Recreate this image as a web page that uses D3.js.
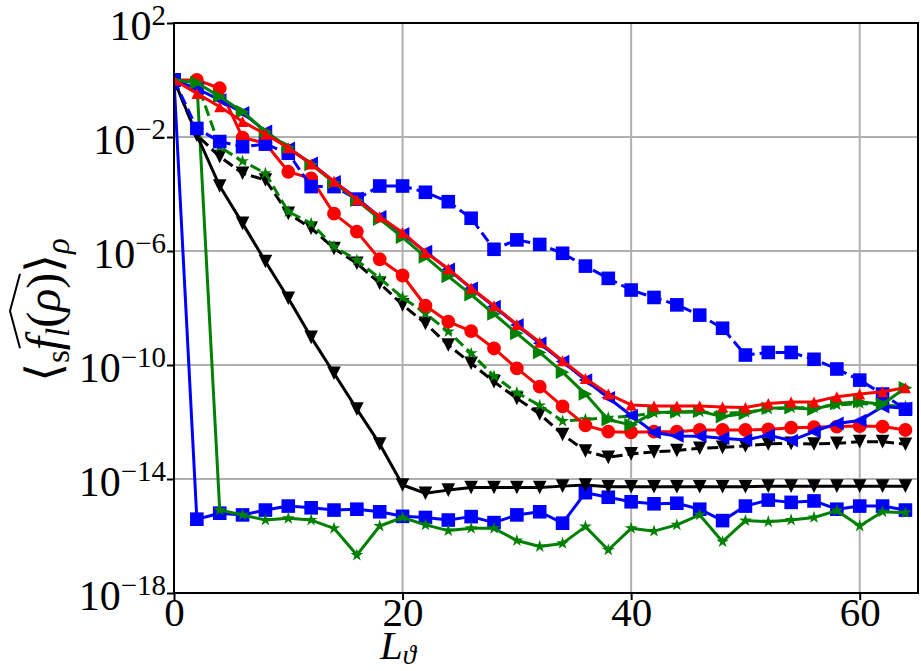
<!DOCTYPE html>
<html>
<head>
<meta charset="utf-8">
<script src="https://cdn.jsdelivr.net/npm/d3@7"></script>
<style>
  body { margin: 0; background: #fff; }
  text { font-family: "Liberation Serif", "DejaVu Serif", serif; }
</style>
</head>
<body>
<div id="chart"></div>
<script>
// Values, stored as log10 of <f>

const L = [0, 2, 4, 6, 8, 10, 12, 14, 16, 18, 20, 22, 24, 26, 28, 30, 32,
           34, 36, 38, 40, 42, 44, 46, 48, 50, 52, 54, 56, 58, 60, 62, 64];

const blueSquareSolid = [0, -15.41, -15.20, -15.26, -15.09, -14.95, -15.01, -15.09, -15.06, -15.15, -15.31,
  -15.35, -15.44, -15.32, -15.53, -15.26, -15.15, -15.55, -14.48, -14.64, -14.80, -14.87, -14.85,
  -15.06, -15.46, -14.95, -14.74, -14.82, -14.77, -15.06, -14.95, -14.95, -15.09];

const greenStarSolid = [0, -0.06, -15.09, -15.26, -15.44, -15.38, -15.44, -15.73, -16.67, -15.65, -15.35,
  -15.61, -15.81, -15.73, -15.73, -16.16, -16.37, -16.26, -15.67, -16.49, -15.73, -15.83, -15.61,
  -15.26, -16.20, -15.46, -15.50, -15.44, -15.35, -15.11, -15.65, -15.15, -15.18];

const blackTriSolid = [0, -1.93, -3.72, -5.03, -6.37, -7.66, -9.03, -10.29, -11.55, -12.77, -14.21,
  -14.50, -14.39, -14.30, -14.30, -14.30, -14.30, -14.25, -14.21, -14.27, -14.27, -14.27, -14.27,
  -14.27, -14.27, -14.27, -14.25, -14.25, -14.25, -14.25, -14.25, -14.25, -14.25];

const blackTriDashed = [0, -1.93, -2.69, -3.27, -3.51, -4.68, -5.20, -5.91, -6.43, -7.13, -7.89,
  -8.54, -9.30, -9.94, -10.59, -11.17, -11.72, -12.44, -13.02, -13.24, -13.12, -13.05, -13.00,
  -12.92, -12.89, -12.84, -12.77, -12.75, -12.77, -12.75, -12.69, -12.69, -12.78];

const greenStarDashed = [0, -0.06, -2.35, -2.85, -3.27, -4.62, -5.03, -5.85, -6.32, -6.96, -7.63,
  -8.19, -8.83, -9.59, -10.39, -10.97, -11.42, -11.97, -11.91, -11.85, -11.79, -11.68, -11.66,
  -11.64, -11.70, -11.66, -11.55, -11.50, -11.50, -11.40, -11.35, -11.40, -11.46];

const redCircle = [0, 0.0, -0.29, -2.02, -2.22, -3.22, -3.45, -4.69, -5.32, -6.29, -6.86,
  -7.92, -8.48, -8.81, -9.42, -10.12, -10.76, -11.45, -12.12, -12.34, -12.36, -12.34, -12.34,
  -12.28, -12.28, -12.28, -12.26, -12.20, -12.18, -12.16, -12.14, -12.16, -12.28];

const blueSquareDashed = [0, -1.70, -2.16, -2.34, -2.25, -2.57, -3.74, -3.74, -4.18, -3.72, -3.72,
  -3.94, -4.27, -4.85, -5.94, -5.61, -5.77, -6.08, -6.53, -6.96, -7.37, -7.63, -7.89,
  -8.25, -8.71, -9.65, -9.56, -9.56, -9.80, -10.14, -10.53, -11.02, -11.55];

const blueTriLeft = [0, -0.30, -0.70, -1.15, -1.80, -2.40, -2.92, -3.57, -4.15, -4.80, -5.40,
  -6.02, -6.64, -7.31, -7.95, -8.60, -9.24, -9.88, -10.53, -11.15, -11.77, -12.37, -12.49,
  -12.50, -12.57, -12.63, -12.46, -12.65, -12.34, -12.05, -11.95, -11.46, -11.52];

const greenTriRight = [0, -0.10, -0.58, -1.11, -1.81, -2.36, -2.96, -3.60, -4.22, -4.88, -5.52,
  -6.21, -6.89, -7.53, -8.21, -8.89, -9.56, -10.25, -11.02, -11.92, -12.10, -11.67, -11.65,
  -11.62, -11.81, -11.70, -11.52, -11.50, -11.55, -11.35, -11.29, -11.38, -10.80];

const redTriUp = [0, -0.47, -0.94, -1.46, -1.90, -2.38, -2.95, -3.55, -4.20, -4.80, -5.35,
  -6.05, -6.62, -7.30, -7.92, -8.58, -9.20, -9.85, -10.47, -11.02, -11.40, -11.44, -11.44,
  -11.44, -11.47, -11.49, -11.35, -11.30, -11.30, -11.11, -11.02, -10.94, -10.80];

const xTicks = [0, 20, 40, 60];
const yTickExps = [2, -2, -6, -10, -14, -18];

// draw order follows the picture (last one on top)
const series = [
  { vals: blueSquareSolid,  color: "#0000ff", dash: null,   marker: "square" },
  { vals: greenStarSolid,   color: "#008000", dash: null,   marker: "star" },
  { vals: blackTriSolid,    color: "#000000", dash: null,   marker: "down" },
  { vals: blackTriDashed,   color: "#000000", dash: "11,5", marker: "down" },
  { vals: greenStarDashed,  color: "#008000", dash: "11,5", marker: "star" },
  { vals: redCircle,        color: "#ff0000", dash: null,   marker: "circle" },
  { vals: blueSquareDashed, color: "#0000ff", dash: "11,5", marker: "square" },
  { vals: blueTriLeft,      color: "#0000ff", dash: null,   marker: "left" },
  { vals: greenTriRight,    color: "#008000", dash: null,   marker: "right" },
  { vals: redTriUp,         color: "#ff0000", dash: null,   marker: "up" }
];

// ---------- layout ----------
const width = 921, height = 671;
const plotLeft = 174, plotRight = 918, plotTop = 23, plotBottom = 593;

const svg = d3.select("#chart").append("svg")
    .attr("width", width)
    .attr("height", height);

const x = d3.scaleLinear().domain([0, 65.1]).range([plotLeft, plotRight]);
const y = d3.scaleLog().domain([1e-18, 1e2]).range([plotBottom, plotTop]);

// grid
svg.append("g").selectAll("line")
    .data(xTicks).enter().append("line")
    .attr("x1", d => x(d)).attr("x2", d => x(d))
    .attr("y1", plotTop).attr("y2", plotBottom)
    .attr("stroke", "#b0b0b0").attr("stroke-width", 2);

svg.append("g").selectAll("line")
    .data(yTickExps).enter().append("line")
    .attr("x1", plotLeft).attr("x2", plotRight)
    .attr("y1", d => y(Math.pow(10, d))).attr("y2", d => y(Math.pow(10, d)))
    .attr("stroke", "#b0b0b0").attr("stroke-width", 2);

// clip for data
svg.append("clipPath").attr("id", "plotclip")
  .append("rect")
    .attr("x", plotLeft).attr("y", plotTop)
    .attr("width", plotRight - plotLeft).attr("height", plotBottom - plotTop);

const plot = svg.append("g").attr("clip-path", "url(#plotclip)");

const line = d3.line()
    .x(d => x(d[0]))
    .y(d => y(Math.pow(10, d[1])));

// matplotlib-like triangles (width = height = 2r)
function tri(r) {
  return `M0,${-r}L${r},${r}L${-r},${r}Z`;
}
function markerPath(kind) {
  switch (kind) {
    case "square": return d3.symbol(d3.symbolSquare, 185)();
    case "circle": return d3.symbol(d3.symbolCircle, 150)();
    case "star":   return d3.symbol(d3.symbolStar, 50)();
    case "up":     return tri(5.5);
    default:       return tri(6.8);
  }
}
const markerRotate = { down: 180, left: -90, right: 90 };

series.forEach(s => {
  const pts = L.map((l, i) => [l, s.vals[i]]);
  const g = plot.append("g");

  g.append("path")
    .attr("d", line(pts))
    .attr("fill", "none")
    .attr("stroke", s.color)
    .attr("stroke-width", 3)
    .attr("stroke-dasharray", s.dash)
    .attr("stroke-linejoin", "round");

  const sym = markerPath(s.marker);
  const rot = markerRotate[s.marker] || 0;
  g.selectAll("path.m")
    .data(pts).enter().append("path")
    .attr("class", "m")
    .attr("d", sym)
    .attr("transform", d => `translate(${x(d[0])},${y(Math.pow(10, d[1]))}) rotate(${rot})`)
    .attr("fill", s.color);
});

// ---------- axes ----------
const gx = svg.append("g")
    .attr("transform", `translate(0,${plotBottom})`)
    .call(d3.axisBottom(x).tickValues(xTicks).tickSize(7));
gx.select(".domain").remove();
gx.selectAll(".tick line").attr("stroke", "#000").attr("stroke-width", 2);
gx.selectAll(".tick text")
    .attr("font-size", 41)
    .attr("font-family", "Liberation Serif")
    .attr("fill", "#000")
    .attr("dy", null)
    .attr("y", 33);

const gy = svg.append("g")
    .attr("transform", `translate(${plotLeft},0)`)
    .call(d3.axisLeft(y).tickValues(yTickExps.map(e => Math.pow(10, e))).tickSize(7));
gy.select(".domain").remove();
gy.selectAll(".tick line").attr("stroke", "#000").attr("stroke-width", 2);
gy.selectAll(".tick text").remove();
gy.selectAll(".tick").each(function(d) {
  const e = Math.round(Math.log10(d));
  const t = d3.select(this).append("text")
      .attr("x", -8).attr("y", 16)
      .attr("text-anchor", "end")
      .attr("font-size", 42)
      .attr("fill", "#000");
  t.append("tspan").text("10");
  t.append("tspan")
      .attr("font-size", 29)
      .attr("dy", -15)
      .text(e < 0 ? "\u2212" + (-e) : String(e));
});

// spines
svg.append("rect")
    .attr("x", plotLeft).attr("y", plotTop)
    .attr("width", plotRight - plotLeft).attr("height", plotBottom - plotTop)
    .attr("fill", "none").attr("stroke", "#000").attr("stroke-width", 2);

// x label  L_theta
const xl = svg.append("text")
    .attr("x", 398).attr("y", 659)
    .attr("text-anchor", "middle")
    .attr("font-size", 41);
xl.append("tspan").attr("font-style", "italic").text("L");
xl.append("tspan").attr("font-style", "italic").attr("font-size", 27).attr("dy", 5).text("\u03d1");

// y label  < s f_l(rho)^ >_rho
const yg = svg.append("g").attr("transform", "translate(60,310) rotate(-90)");
const yl = yg.append("text")
    .attr("text-anchor", "middle")
    .attr("font-size", 48);
yl.append("tspan").text("\u27e8");
yl.append("tspan").attr("font-size", 33).attr("dy", 9).text("s");
yl.append("tspan").attr("font-style", "italic").attr("dy", -9).text("f");
yl.append("tspan").attr("font-style", "italic").attr("font-size", 33).attr("dy", 9).text("l");
yl.append("tspan").attr("dy", -9).text("(");
yl.append("tspan").attr("font-style", "italic").text("\u03c1");
yl.append("tspan").text(")");
yl.append("tspan").text("\u27e9");
yl.append("tspan").attr("font-style", "italic").attr("font-size", 33).attr("dy", 9).text("\u03c1");

// wide hat over f_l(rho)
const node = yl.node();
const hx0 = node.getStartPositionOfChar(2).x + 2;
const hx1 = node.getEndPositionOfChar(6).x - 1;
const hatY = -40;
yg.append("path")
    .attr("d", `M${hx0},${hatY} L${(hx0 + hx1) / 2},${hatY - 10} L${hx1},${hatY}`)
    .attr("fill", "none")
    .attr("stroke", "#000")
    .attr("stroke-width", 2);
</script>
</body>
</html>
